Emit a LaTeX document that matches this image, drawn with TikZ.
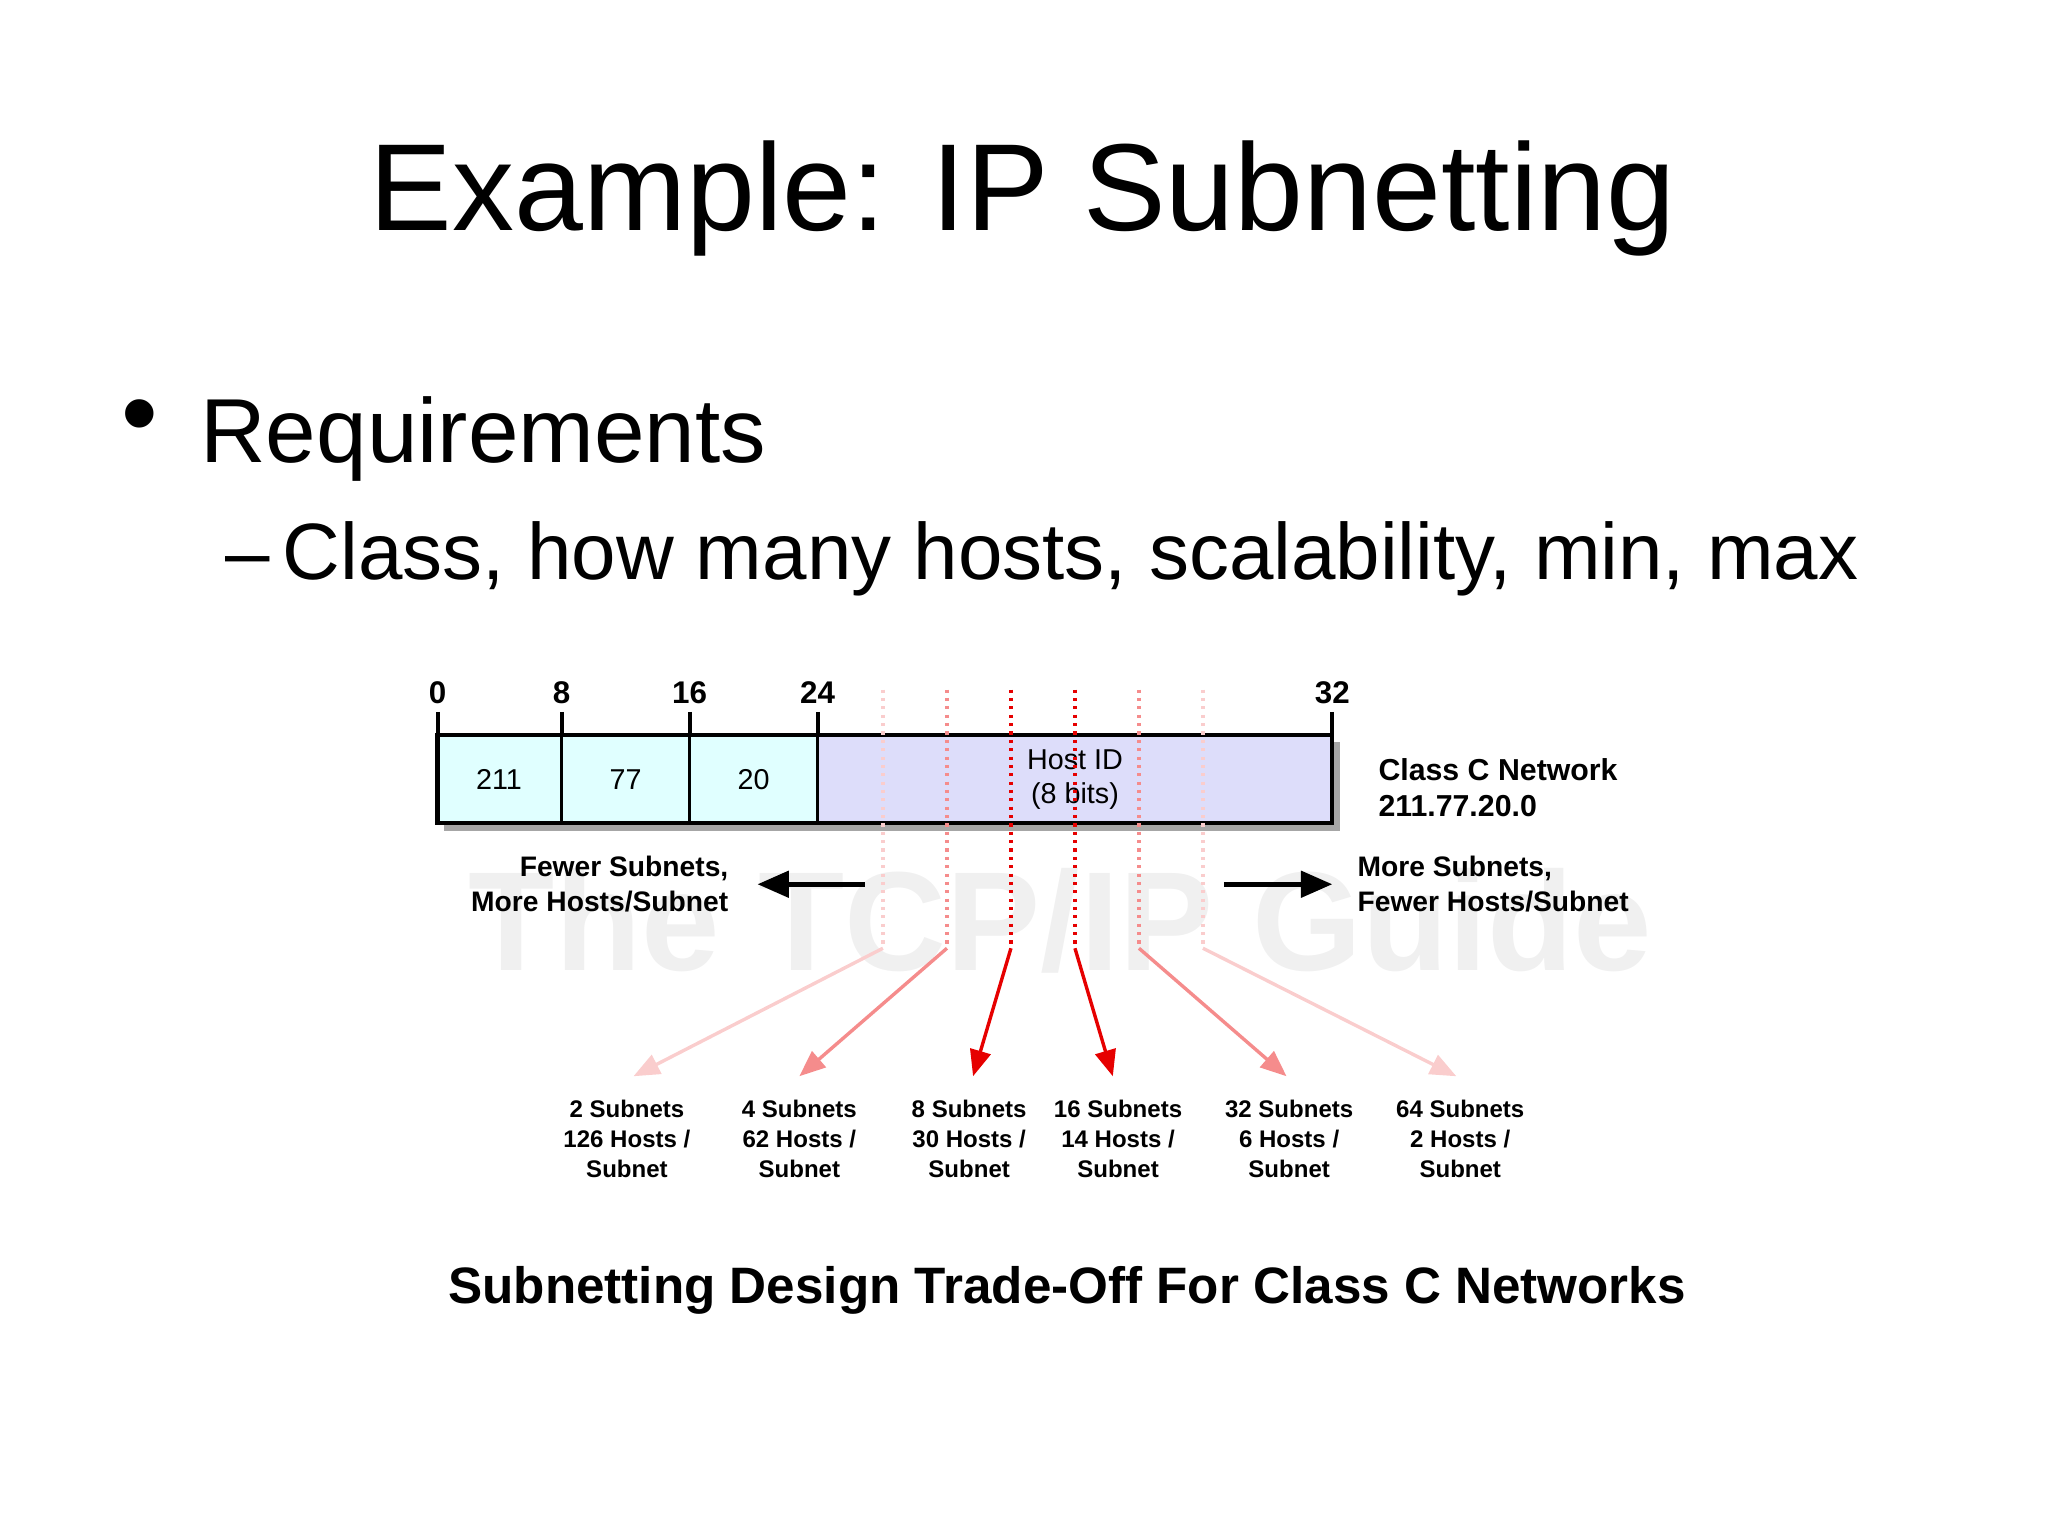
\documentclass[tikz,border=0pt]{standalone}
\usepackage{fontspec}
\setmainfont{Liberation Sans}
\usetikzlibrary{arrows.meta}
\definecolor{cyanf}{RGB}{224,255,255}
\definecolor{lavf}{RGB}{221,221,250}
\definecolor{rfull}{RGB}{230,0,0}
\definecolor{rmid}{RGB}{245,140,140}
\definecolor{rfaint}{RGB}{250,205,205}
\tikzset{lbl/.style={font=\fontsize{10.8}{12.5}\selectfont\bfseries, align=center, inner sep=0pt},
 cell/.style={font=\fontsize{11}{13}\selectfont},
 dot/.style={dotted, line width=1.2pt},
 sarr/.style={line width=1.3pt, -{Triangle[length=10pt,width=8pt]}}}
\begin{document}
\begin{tikzpicture}[x=0.5pt,y=-0.5pt]
\useasboundingbox (0,0) rectangle (1568,1176);
\node[font=\fontsize{47.4}{55}\selectfont] (title) at (783,152) {Example: IP Subnetting};
\node[font=\fontsize{40}{44}\selectfont] (bul) at (107,325) {•};
\node[font=\fontsize{34.8}{40}\selectfont, anchor=base west, inner sep=0pt] (req) at (153,354) {Requirements};
\node[font=\fontsize{30.6}{36}\selectfont, anchor=base west, inner sep=0pt] (cls) at (172,444) {–\,Class, how many hosts, scalability, min, max};
% watermark
\node[font=\fontsize{54}{58}\selectfont\bfseries, text=black!6] (wm) at (812,705) {The TCP/IP Guide};
% shadow and box
\fill[black!35] (340,568) rectangle (1026,636);
\fill[cyanf] (335,563) rectangle (626,630);
\fill[lavf] (626,563) rectangle (1020,630);
\draw[line width=1.6pt] (335,563) rectangle (1020,630);
\foreach \x in {430,528,626} \draw[line width=1pt] (\x,563) -- (\x,630);
\foreach \x/\t in {335/0,430/8,528/16,626/24,1020/32}{
  \draw[line width=1.5pt] (\x,545) -- (\x,563);
  \node[font=\fontsize{12}{13}\selectfont\bfseries] at (\x,530) {\t};}
\node[cell] (c1) at (382,597) {211};
\node[cell] (c2) at (479,597) {77};
\node[cell] (c3) at (577,597) {20};
\node[cell, align=center, inner sep=0pt] (hid) at (823,597) {Host ID\\(8 bits)};
% dotted lines and arrows
\foreach \x/\c/\tx in {676/rfaint/485,725/rmid/612,774/rfull/745,823/rfull/852,872/rmid/985,921/rfaint/1115}{
  \coordinate (t\x) at (\x,528);
  \coordinate (b\x) at (\x,726);
  \coordinate (e\x) at (\tx,824);
  \draw[dot,\c] (t\x) -- (b\x);
  \draw[sarr,\c] (b\x) -- (e\x);}
% black arrows
\coordinate (l1) at (662,677); \coordinate (l2) at (580,677);
\coordinate (r1) at (937,677); \coordinate (r2) at (1020,677);
\draw[line width=1.8pt,-{Triangle[length=12pt,width=10pt]}] (l1) -- (l2);
\draw[line width=1.8pt,-{Triangle[length=12pt,width=10pt]}] (r1) -- (r2);
\node[lbl, align=right, anchor=east] (fw) at (558,677) {Fewer Subnets,\\[1pt]More Hosts/Subnet};
\node[lbl, align=left, anchor=west] (mr) at (1039,677) {More Subnets,\\[1pt]Fewer Hosts/Subnet};
\node[lbl, font=\fontsize{11.6}{13}\selectfont\bfseries, align=left, anchor=west] (cc) at (1055,603) {Class C Network\\[1pt]211.77.20.0};
\foreach \x/\a/\b in {480/2/126,612/4/62,742/8/30,856/16/14,987/32/6,1118/64/2}
  \node[lbl, font=\fontsize{9.2}{11.5}\selectfont\bfseries] at (\x,872) {\a\ Subnets\\\b\ Hosts /\\Subnet};
\node[font=\fontsize{19.6}{24}\selectfont\bfseries] (cap) at (817,988) {Subnetting Design Trade-Off For Class C Networks};
\end{tikzpicture}
\end{document}
